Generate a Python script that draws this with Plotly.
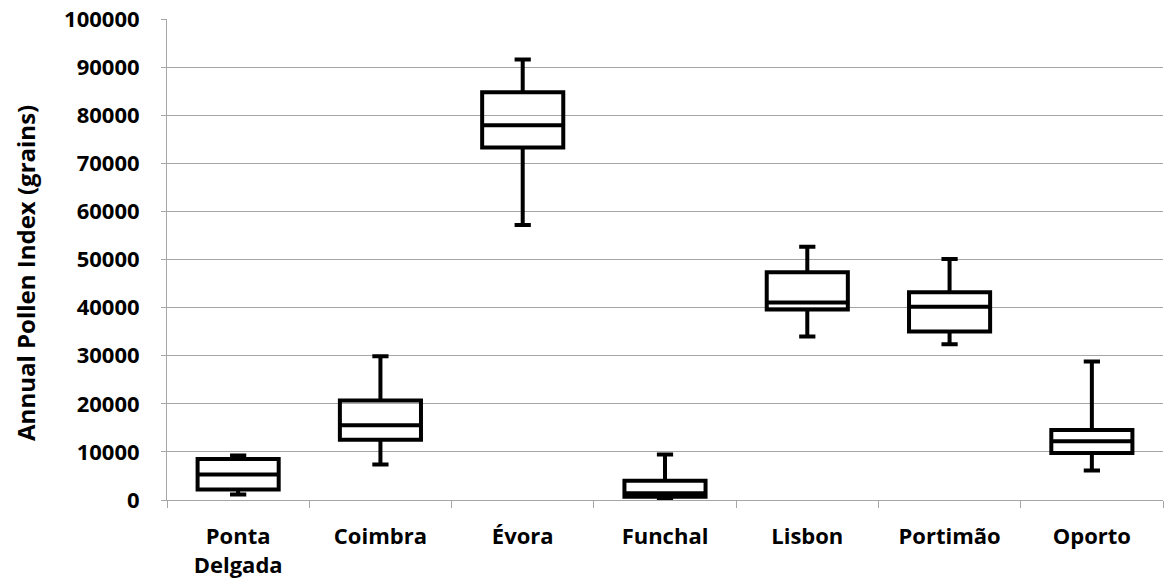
import plotly.graph_objects as go

cities = ["Ponta<br>Delgada", "Coimbra", "Évora", "Funchal", "Lisbon", "Portimão", "Oporto"]
lower_whisker = [1140, 7370, 57160, 200, 33980, 32400, 6120]
q1_values = [2180, 12550, 73280, 700, 39590, 35020, 9790]
medians = [5290, 15520, 77900, 1400, 41040, 40200, 12200]
q3_values = [8500, 20700, 84750, 3980, 47370, 43200, 14560]
upper_whisker = [9230, 29900, 91600, 9440, 52650, 50100, 28800]
y_ticks = [0, 10000, 20000, 30000, 40000, 50000, 60000, 70000, 80000, 90000, 100000]
y_title = "Annual Pollen Index (grains)"

fig = go.Figure()
fig.add_trace(go.Box(
    x=cities,
    q1=q1_values,
    median=medians,
    q3=q3_values,
    lowerfence=lower_whisker,
    upperfence=upper_whisker,
    boxpoints=False,
    line=dict(color="black", width=4),
    fillcolor="rgba(255,255,255,0)",
    width=0.57,
    whiskerwidth=0.2,
    showlegend=False,
    hoverinfo="skip",
))

font_family = "Open Sans"
fig.update_layout(
    width=1165, height=586,
    margin=dict(l=167, r=2, t=19, b=86),
    paper_bgcolor="white", plot_bgcolor="white",
    font=dict(family=font_family, size=22, color="black"),
)
fig.update_yaxes(
    range=[0, 100000],
    automargin=False,
    tickvals=y_ticks,
    ticktext=[str(v) for v in y_ticks],
    showgrid=True, gridcolor="#a6a6a6", gridwidth=1,
    showline=True, linecolor="#a6a6a6", linewidth=1,
    ticks="outside", ticklen=5, tickcolor="#a6a6a6",
    ticklabelstandoff=17,
    tickfont=dict(family=font_family, size=22, color="black", weight="bold"),
    zeroline=False,
)
fig.update_xaxes(
    type="category",
    range=[-0.5, len(cities) - 0.5],
    automargin=False,
    showgrid=False,
    showline=True, linecolor="#a6a6a6", linewidth=1,
    ticks="outside", ticklen=7, tickcolor="#a6a6a6",
    tickson="boundaries",
    ticklabelstandoff=17,
    tickfont=dict(family=font_family, size=22, color="black", weight="bold"),
)
fig.add_annotation(
    text=y_title, textangle=-90,
    xref="paper", yref="paper", x=-0.1416, y=0.472,
    xanchor="center", yanchor="middle", showarrow=False,
    font=dict(family=font_family, size=24, color="black", weight="bold"),
)

fig.write_html("out.html", config={"displayModeBar": False},
               post_script="document.body.style.margin='0px';")
